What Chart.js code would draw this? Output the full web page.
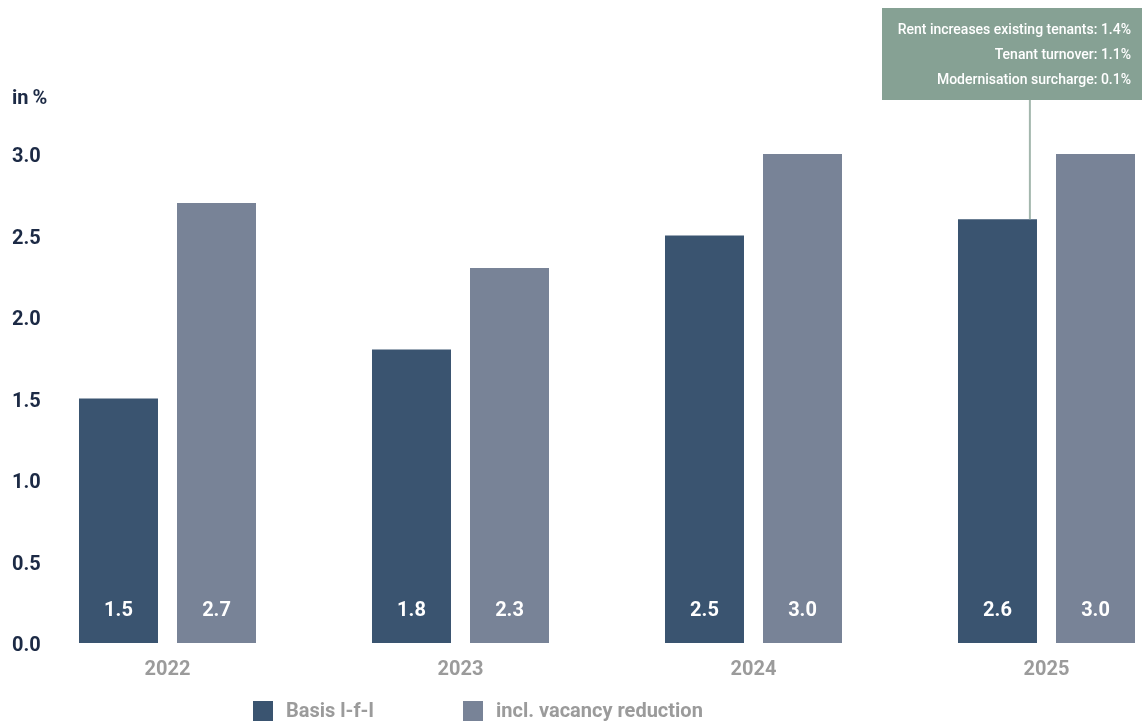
<!DOCTYPE html>
<html>
<head>
<meta charset="utf-8">
<script src="https://cdn.jsdelivr.net/npm/chart.js@4"></script>
<style>
  html, body { margin: 0; padding: 0; background: #fff; }
  #wrap { width: 1142px; height: 727px; }
</style>
</head>
<body>
<div id="wrap"><canvas id="myChart" width="1142" height="727"></canvas></div>
<script>
const years = ['2022', '2023', '2024', '2025']
const basisLfl = [1.5, 1.8, 2.5, 2.6]
const inclVacancy = [2.7, 2.3, 3.0, 3.0]
const seriesNames = ['Basis l-f-l', 'incl. vacancy reduction']
const unitLabel = 'in\u2009%'
const noteLines = [
    'Rent increases existing tenants: 1.4%',
    'Tenant turnover: 1.1%',
    'Modernisation surcharge: 0.1%'
]

const DARK = '#3a5470'
const LIGHT = '#788397'
const NAVY = '#1c2a45'
const GREY = '#9b9b9b'
const SAGE = '#86a194'
const FONT = 'Roboto, "Liberation Sans", sans-serif'

// white value labels near the foot of every bar
const valueLabels = {
    id: 'valueLabels',
    afterDatasetsDraw(chart){
        const ctx = chart.ctx
        const base = chart.scales.y.getPixelForValue(0)
        ctx.save()
        ctx.font = `bold 20px ${FONT}`
        ctx.fillStyle = '#ffffff'
        ctx.textAlign = 'center'
        ctx.textBaseline = 'middle'
        chart.data.datasets.forEach((ds, i) => {
            chart.getDatasetMeta(i).data.forEach((bar, j) => {
                ctx.fillText(ds.data[j].toFixed(1), bar.x, base - 32)
            })
        })
        ctx.restore()
    }
}

// unit label, note box and legend
const extras = {
    id: 'extras',
    afterDraw(chart){
        const ctx = chart.ctx
        ctx.save()
        ctx.font = `bold 20px ${FONT}`
        ctx.fillStyle = NAVY
        ctx.textAlign = 'left'
        ctx.textBaseline = 'middle'
        ctx.fillText(unitLabel, 12, 99)

        // note box pointing at 2025 basis bar
        const bar = chart.getDatasetMeta(0).data[3]
        const lx = bar.x + bar.width * 0.41
        ctx.strokeStyle = '#a3b7ad'
        ctx.lineWidth = 2
        ctx.beginPath()
        ctx.moveTo(lx, 100)
        ctx.lineTo(lx, bar.y)
        ctx.stroke()
        ctx.fillStyle = SAGE
        ctx.fillRect(882, 8, 260, 92)
        ctx.font = `500 14px ${FONT}`
        ctx.fillStyle = '#ffffff'
        ctx.textAlign = 'right'
        noteLines.forEach((t, i) => ctx.fillText(t, 1131, 30 + i * 25))

        // legend
        const lx0 = [253, 463]
        ctx.font = `bold 20px ${FONT}`
        ctx.textAlign = 'left'
        chart.data.datasets.forEach((ds, i) => {
            ctx.fillStyle = ds.backgroundColor
            ctx.fillRect(lx0[i], 701, 20, 20)
            ctx.fillStyle = GREY
            ctx.fillText(ds.label, lx0[i] + 33, 712)
        })
        ctx.restore()
    }
}

function displayChart(){
    const ctx = document.getElementById('myChart')
    new Chart(ctx, {
        type: 'bar',
        data: {
            labels: years,
            datasets: [
                { label: seriesNames[0], data: basisLfl, backgroundColor: DARK, clip: false },
                { label: seriesNames[1], data: inclVacancy, backgroundColor: LIGHT, clip: false }
            ]
        },
        options: {
            responsive: false,
            animation: false,
            categoryPercentage: 0.669,
            barPercentage: 0.806,
            layout: { padding: { left: 12, right: 95.5, top: 154, bottom: 0 } },
            scales: {
                x: {
                    offset: false,
                    grid: { display: false, drawTicks: false },
                    border: { display: false },
                    ticks: { color: GREY, font: { family: FONT, size: 20, weight: 'bold' }, padding: 15, maxRotation: 0 },
                    afterFit(scale){ scale.height = 84 }
                },
                y: {
                    min: 0,
                    max: 3,
                    grid: { display: false, drawTicks: false },
                    border: { display: false },
                    ticks: {
                        stepSize: 0.5,
                        crossAlign: 'far',
                        labelOffset: 3,
                        color: NAVY,
                        font: { family: FONT, size: 20, weight: 'bold' },
                        callback: v => v.toFixed(1)
                    },
                    afterFit(scale){ scale.width = 155.5 }
                }
            },
            plugins: {
                legend: { display: false },
                tooltip: { enabled: false }
            }
        },
        plugins: [valueLabels, extras]
    })
}

displayChart()
</script>
</body>
</html>
